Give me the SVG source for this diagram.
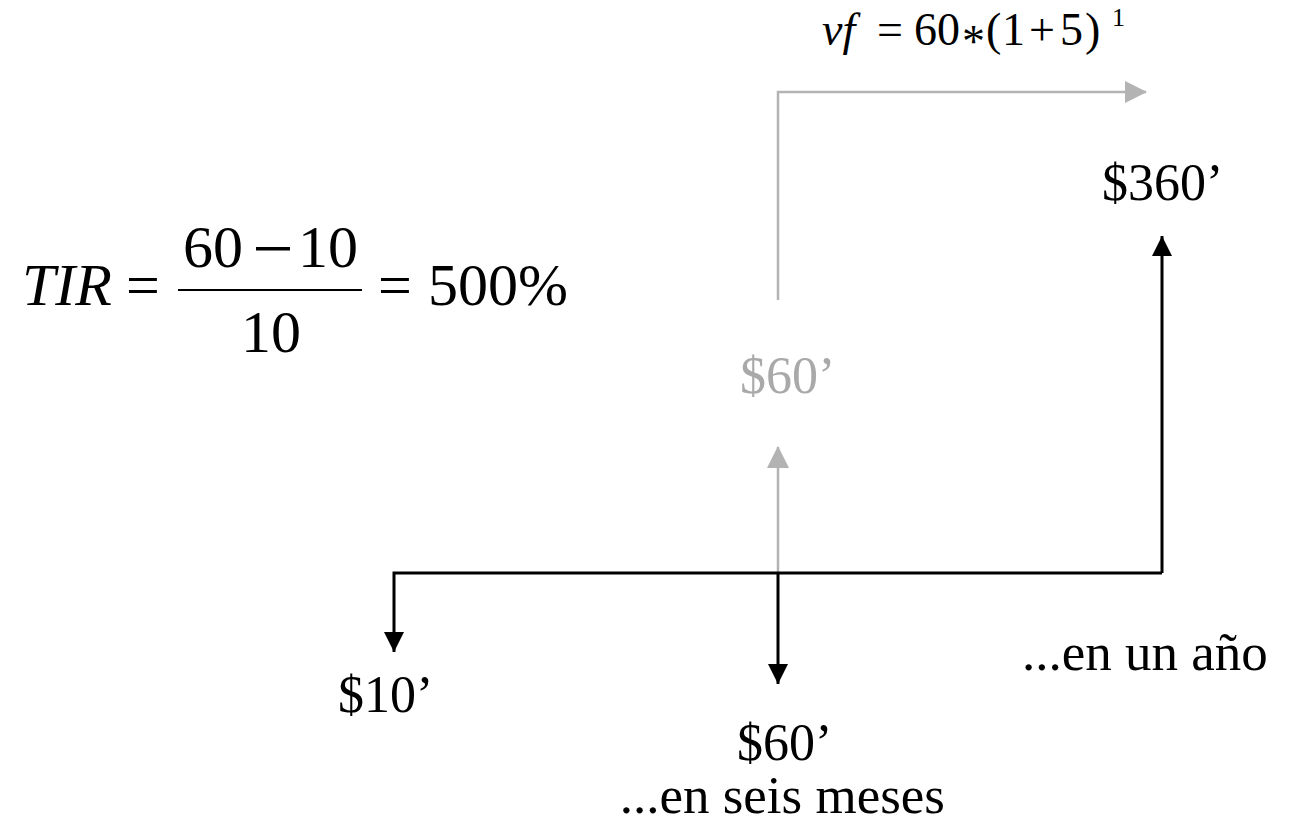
<svg xmlns="http://www.w3.org/2000/svg" width="1299" height="828" viewBox="0 0 1299 828">
<style>
text{font-family:"Liberation Serif","Times New Roman",serif;fill:#000}
.lbl{font-size:52px}
.eq{font-size:60px}
.eqs{font-size:46px}
.it{font-style:italic}
.grey{fill:#a9a9a9}
.bl{stroke:#000;stroke-width:3;fill:none}
.gr{stroke:#b3b3b3;stroke-width:2.5;fill:none}
</style>
<defs>
<marker id="ab" markerUnits="userSpaceOnUse" markerWidth="20" markerHeight="20" refX="20" refY="10" orient="auto" viewBox="0 0 20 20"><path d="M0,0 L20,10 L0,20 z" fill="#000"/></marker>
<marker id="ag" markerUnits="userSpaceOnUse" markerWidth="22" markerHeight="22" refX="21" refY="11" orient="auto" viewBox="0 0 22 22"><path d="M0,0 L22,11 L0,22 z" fill="#b3b3b3"/></marker>
</defs>
<rect width="1299" height="828" fill="#fff"/>
<g id="connectors">
<path class="gr" d="M778,573 L778,447" marker-end="url(#ag)"/>
<path class="gr" d="M778,300 L778,92 L1146,92" marker-end="url(#ag)"/>
<path class="bl" d="M1162,573 L394,573 L394,652" marker-end="url(#ab)"/>
<path class="bl" d="M778,573 L778,684" marker-end="url(#ab)"/>
<path class="bl" d="M1162,573 L1162,236" marker-end="url(#ab)"/>
</g>
<g id="tir-formula">
<text class="eq it" x="22" y="305">TIR</text>
<text class="eq" x="143" y="305" text-anchor="middle">=</text>
<text class="eq" x="183" y="267">60</text>
<rect x="256" y="247" width="34" height="3.5" fill="#000"/>
<text class="eq" x="298" y="267">10</text>
<line x1="178" y1="290" x2="362" y2="290" stroke="#000" stroke-width="2"/>
<text class="eq" x="241" y="352">10</text>
<text class="eq" x="395" y="305" text-anchor="middle">=</text>
<text class="eq" x="428" y="305">500%</text>
</g>
<g id="vf-formula">
<text class="eqs it" x="822" y="45">vf</text>
<text class="eqs" x="877" y="45">=</text>
<text class="eqs" x="914" y="45">60</text>
<text class="eqs" x="962" y="57">*</text>
<text class="eqs" x="986" y="45">(</text>
<text class="eqs" x="1002" y="45">1</text>
<text class="eqs" x="1029" y="45">+</text>
<text class="eqs" x="1060" y="45">5</text>
<text class="eqs" x="1085" y="45">)</text>
<text x="1112" y="26" style="font-size:26px">1</text>
</g>
<g id="node-360"><text class="lbl" x="1102" y="200">$360’</text></g>
<g id="node-60-grey"><text class="lbl grey" x="740" y="393">$60’</text></g>
<g id="node-10"><text class="lbl" x="338" y="712">$10’</text></g>
<g id="node-60"><text class="lbl" x="737" y="760">$60’</text></g>
<g id="label-anio"><text class="lbl" x="1022" y="670" style="font-size:53px">...en un año</text></g>
<g id="label-meses"><text class="lbl" x="945" y="813" text-anchor="end" style="font-size:53px">...en seis meses</text></g>
</svg>
